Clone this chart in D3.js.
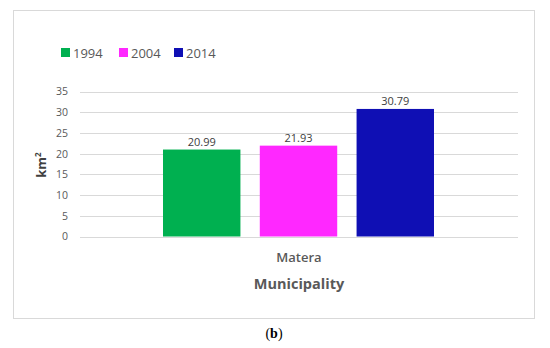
<!DOCTYPE html>
<html><head><meta charset="utf-8">
<script src="https://cdn.jsdelivr.net/npm/d3@7"></script>
<style>body{margin:0;background:#fff}svg{display:block}</style>
</head><body>
<svg id="c" width="550" height="348"></svg>
<script>
const categories = ["Matera"];
const years = ["1994", "2004", "2014"];
const values1994 = [20.99];
const values2004 = [21.93];
const values2014 = [30.79];
const yTicks = [0, 5, 10, 15, 20, 25, 30, 35];
const colors = ["#00b050", "#ff28ff", "#0f0fb4"];

const series = [values1994, values2004, values2014];
const svg = d3.select("#c");
const font = "'Open Sans', sans-serif";

svg.append("rect").attr("x", 13.5).attr("y", 10.5).attr("width", 521).attr("height", 308)
  .attr("fill", "#fff").attr("stroke", "#d9d9d9").attr("stroke-width", 1);

const y = d3.scaleLinear().domain([0, 35]).range([236.5, 91.5]);
const x0 = d3.scaleBand().domain(categories).range([80, 518]).paddingInner(0).paddingOuter(0);
const x1 = d3.scaleBand().domain(years).range([163, 434]).paddingInner(0.2).paddingOuter(0);

const grid = svg.append("g");
grid.selectAll("line").data(yTicks).join("line")
  .attr("x1", 80).attr("x2", 518)
  .attr("y1", d => Math.round(y(d)) + 0.5).attr("y2", d => Math.round(y(d)) + 0.5)
  .attr("stroke", "#d9d9d9").attr("stroke-width", 1);

const yAxis = d3.axisLeft(y).tickValues(yTicks).tickSize(0).tickPadding(0);
const ga = svg.append("g").attr("transform", "translate(68,0)").call(yAxis);
ga.select(".domain").remove();
ga.selectAll("text").attr("font-family", font).attr("font-size", 10.5).attr("fill", "#595959");

categories.forEach((cat, ci) => {
  const g = svg.append("g");
  years.forEach((yr, si) => {
    const v = series[si][ci];
    g.append("rect").attr("x", x1(yr)).attr("y", y(v)).attr("width", x1.bandwidth())
      .attr("height", y(0) - y(v)).attr("fill", colors[si]);
    g.append("text").attr("x", x1(yr) + x1.bandwidth() / 2).attr("y", y(v) - 4)
      .attr("text-anchor", "middle").attr("font-family", font).attr("font-size", 11)
      .attr("fill", "#404040").text(v.toFixed(2));
  });
  svg.append("text").attr("x", x0(cat) + x0.bandwidth() / 2).attr("y", 262)
    .attr("text-anchor", "middle").attr("font-family", font).attr("font-size", 13)
    .attr("font-weight", 600).attr("fill", "#595959").text(cat);
});

svg.append("text").attr("x", 299).attr("y", 289).attr("text-anchor", "middle")
  .attr("font-family", font).attr("font-size", 14.5).attr("font-weight", "bold")
  .attr("fill", "#595959").text("Municipality");

const yl = svg.append("text").attr("transform", "translate(46,165) rotate(-90)")
  .attr("text-anchor", "middle").attr("font-family", font).attr("font-size", 13)
  .attr("font-weight", "bold").attr("fill", "#404040");
yl.append("tspan").text("km");
yl.append("tspan").attr("font-size", 8).attr("dy", -5).text("2");

const legX = [61, 119, 174];
const leg = svg.append("g");
years.forEach((yr, i) => {
  leg.append("rect").attr("x", legX[i]).attr("y", 48).attr("width", 9).attr("height", 9).attr("fill", colors[i]);
  leg.append("text").attr("x", legX[i] + 12).attr("y", 57.5).attr("font-family", font)
    .attr("font-size", 13).attr("fill", "#595959").text(yr);
});

const cap = svg.append("text").attr("x", 274).attr("y", 338).attr("text-anchor", "middle")
  .attr("font-family", "'Liberation Serif', serif").attr("font-size", 14).attr("fill", "#000");
cap.append("tspan").text("(");
cap.append("tspan").attr("font-weight", "bold").text("b");
cap.append("tspan").text(")");
</script>
</body></html>
